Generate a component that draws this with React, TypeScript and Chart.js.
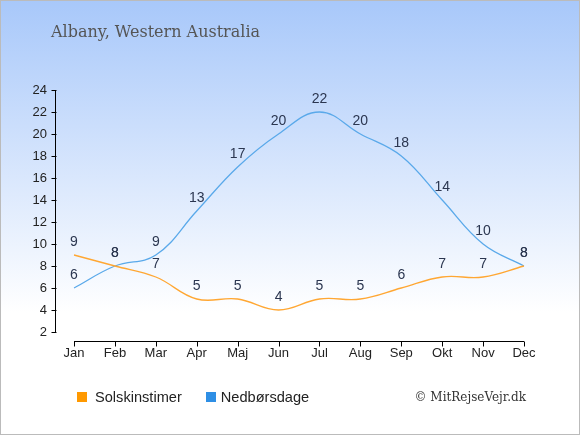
import { useEffect, useRef } from "react";
import { Chart, registerables } from "chart.js";

Chart.register(...registerables);

const months = ["Jan", "Feb", "Mar", "Apr", "Maj", "Jun", "Jul", "Aug", "Sep", "Okt", "Nov", "Dec"];
const sunHours = [9, 8, 7, 5, 5, 4, 5, 5, 6, 7, 7, 8];
const rainDays = [6, 8, 9, 13, 17, 20, 22, 20, 18, 14, 10, 8];
const yTicks = [2, 4, 6, 8, 10, 12, 14, 16, 18, 20, 22, 24];

const sunColor = "#ffa733";
const rainColor = "#5aa9ea";

// axis lines, tick marks and the value labels over each point
const decorations = {
  id: "decorations",
  afterDatasetsDraw(chart: Chart) {
    const { ctx, chartArea } = chart;
    const x = chart.scales.x;
    const y = chart.scales.y;
    ctx.save();
    ctx.strokeStyle = "#000";
    ctx.lineWidth = 1;

    const axisX = Math.round(chartArea.left - 19) + 0.5;
    ctx.beginPath();
    ctx.moveTo(axisX, y.getPixelForValue(24));
    ctx.lineTo(axisX, y.getPixelForValue(2));
    yTicks.forEach((v) => {
      const py = Math.round(y.getPixelForValue(v)) + 0.5;
      ctx.moveTo(axisX - 4, py);
      ctx.lineTo(axisX + 1, py);
    });
    ctx.stroke();

    const axisY = Math.round(chartArea.bottom + 9) + 0.5;
    ctx.beginPath();
    ctx.moveTo(x.getPixelForValue(0), axisY);
    ctx.lineTo(x.getPixelForValue(months.length - 1), axisY);
    months.forEach((_, i) => {
      const px = Math.round(x.getPixelForValue(i)) + 0.5;
      ctx.moveTo(px, axisY);
      ctx.lineTo(px, axisY + 5);
    });
    ctx.stroke();

    ctx.fillStyle = "#2b3650";
    ctx.font = "14px 'Liberation Sans', Arial, sans-serif";
    ctx.textAlign = "center";
    ctx.textBaseline = "middle";
    chart.data.datasets.forEach((ds, di) => {
      const meta = chart.getDatasetMeta(di);
      meta.data.forEach((pt, i) => {
        ctx.fillText(String(ds.data[i]), pt.x, pt.y - 13);
      });
    });
    ctx.restore();
  },
};

export default function App() {
  const canvasRef = useRef<HTMLCanvasElement | null>(null);
  const chartRef = useRef<Chart | null>(null);

  useEffect(() => {
    document.body.style.margin = "0";
    if (!canvasRef.current) return;
    if (chartRef.current) chartRef.current.destroy();

    chartRef.current = new Chart(canvasRef.current, {
      type: "line",
      data: {
        labels: months,
        datasets: [
          {
            label: "Solskinstimer",
            data: sunHours,
            borderColor: sunColor,
            borderWidth: 1.3,
            pointRadius: 0,
            tension: 0.4,
            fill: false,
          },
          {
            label: "Nedbørsdage",
            data: rainDays,
            borderColor: rainColor,
            borderWidth: 1.3,
            pointRadius: 0,
            tension: 0.4,
            fill: false,
          },
        ],
      },
      options: {
        animation: false,
        responsive: false,
        events: [],
        layout: { padding: { left: 14, right: 56, top: 90, bottom: 73 } },
        plugins: {
          legend: { display: false },
          tooltip: { enabled: false },
        },
        scales: {
          x: {
            grid: { display: false, drawTicks: false },
            border: { display: false },
            ticks: {
              padding: 14,
              color: "#222",
              font: { family: "'Liberation Sans', Arial, sans-serif", size: 13 },
              maxRotation: 0,
            },
            afterFit: (scale) => {
              scale.height = 30;
            },
          },
          y: {
            min: 2,
            max: 24,
            grid: { display: false, drawTicks: false },
            border: { display: false },
            ticks: {
              stepSize: 2,
              padding: 27,
              color: "#222",
              font: { family: "'Liberation Sans', Arial, sans-serif", size: 13 },
            },
            afterFit: (scale) => {
              scale.width = 60;
            },
          },
        },
      },
      plugins: [decorations],
    });

    return () => {
      if (chartRef.current) {
        chartRef.current.destroy();
        chartRef.current = null;
      }
    };
  }, []);

  return (
    <div
      style={{
        position: "relative",
        width: 580,
        height: 435,
        boxSizing: "border-box",
        border: "1px solid #bbb",
        background: "linear-gradient(#a8c8fa 0%, #ffffff 72%)",
        overflow: "hidden",
      }}
    >
      <canvas ref={canvasRef} width={580} height={435} style={{ position: "absolute", left: -1, top: -1 }} />
      <div
        style={{
          position: "absolute",
          left: 50,
          top: 21,
          font: "16px 'DejaVu Serif', serif",
          color: "#555",
          whiteSpace: "nowrap",
        }}
      >
        Albany, Western Australia
      </div>
      <div
        style={{
          position: "absolute",
          left: 76,
          top: 388,
          font: "14.6px 'Liberation Sans', Arial, sans-serif",
          color: "#222",
          display: "flex",
          alignItems: "center",
          whiteSpace: "nowrap",
        }}
      >
        <span style={{ width: 10, height: 10, background: "#ff9900", marginRight: 8, display: "inline-block" }} />
        <span style={{ marginRight: 24 }}>Solskinstimer</span>
        <span style={{ width: 10, height: 10, background: "#2e8fe5", marginRight: 5, display: "inline-block" }} />
        <span>Nedbørsdage</span>
      </div>
      <div
        style={{
          position: "absolute",
          right: 53,
          top: 389,
          font: "12px 'DejaVu Serif', serif",
          color: "#333",
        }}
      >
        © MitRejseVejr.dk
      </div>
    </div>
  );
}
